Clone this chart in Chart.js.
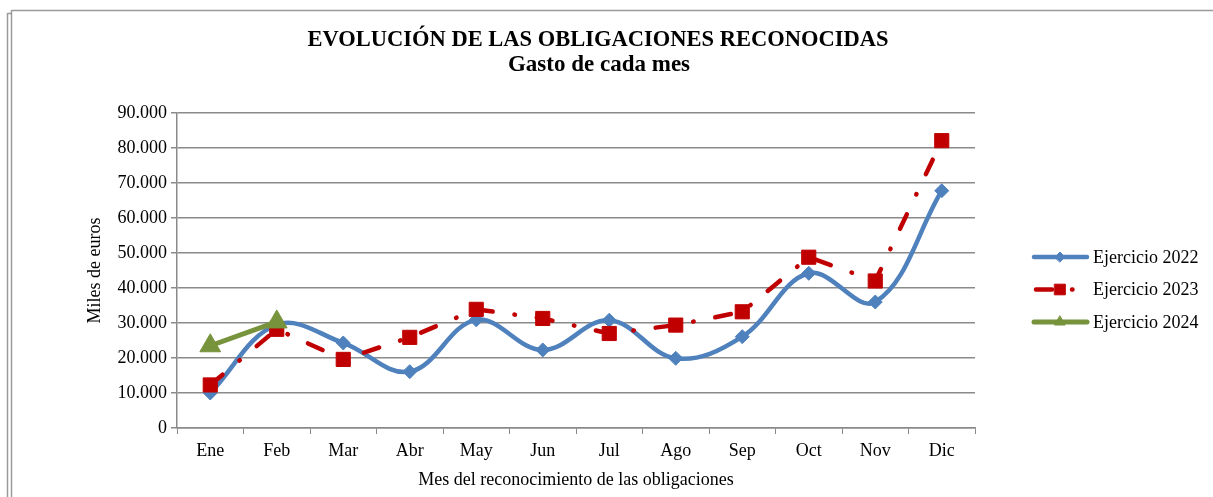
<!DOCTYPE html>
<html>
<head>
<meta charset="utf-8">
<script src="https://cdn.jsdelivr.net/npm/chart.js@4.4.1/dist/chart.umd.min.js"></script>
<style>
  html, body { margin: 0; padding: 0; background: #ffffff; }
  #wrap { position: relative; width: 1213px; height: 497px; }
  canvas { display: block; }
</style>
</head>
<body>
<div id="wrap"><canvas id="c" width="1213" height="497"></canvas></div>
<script>
// ---- Data ----
const months = ['Ene', 'Feb', 'Mar', 'Abr', 'May', 'Jun', 'Jul', 'Ago', 'Sep', 'Oct', 'Nov', 'Dic'];
const ejercicio2022 = [10000, 29500, 24300, 16100, 30900, 22300, 30800, 19900, 26100, 44200, 36000, 67800];
const ejercicio2023 = [12300, 28200, 19600, 25900, 33900, 31300, 27000, 29400, 33200, 48800, 42000, 82100];
const ejercicio2024 = [23500, 30300, null, null, null, null, null, null, null, null, null, null];
const seriesNames = ['Ejercicio 2022', 'Ejercicio 2023', 'Ejercicio 2024'];
const yTickValues = [0, 10000, 20000, 30000, 40000, 50000, 60000, 70000, 80000, 90000];
const titleText = 'EVOLUCIÓN DE LAS OBLIGACIONES RECONOCIDAS';
const subtitleText = 'Gasto de cada mes';
const yAxisTitle = 'Miles de euros';
const xAxisTitle = 'Mes del reconocimiento de las obligaciones';

const FONT = '"Liberation Serif", "Times New Roman", serif';
const GRID = '#8a8a8a';

function fmtThousands(v) {
  return String(Math.round(v)).replace(/\B(?=(\d{3})+(?!\d))/g, '.');
}

const framePlugin = {
  id: 'frame',
  beforeDraw(chart) {
    const ctx = chart.ctx;
    ctx.save();
    ctx.strokeStyle = '#9a9a9a';
    ctx.lineWidth = 1.5;
    ctx.beginPath();
    ctx.moveTo(7.5, 13); ctx.lineTo(7.5, 497);
    ctx.moveTo(7.5, 13.5); ctx.lineTo(11.5, 13.5);
    ctx.moveTo(11.5, 10); ctx.lineTo(11.5, 497);
    ctx.moveTo(11.5, 10.5); ctx.lineTo(1213, 10.5);
    ctx.stroke();
    // titles
    ctx.fillStyle = '#000';
    ctx.textAlign = 'center';
    ctx.textBaseline = 'middle';
    ctx.font = 'bold 22.5px ' + FONT;
    ctx.fillText(titleText, 598, 40);
    ctx.font = 'bold 23px ' + FONT;
    ctx.fillText(subtitleText, 599, 65);
    ctx.restore();
  }
};

const legendPlugin = {
  id: 'customLegend',
  afterDraw(chart) {
    const ctx = chart.ctx;
    const ys = [257, 289.5, 322];
    chart.data.datasets.forEach((ds, i) => {
      const y = ys[i];
      ctx.save();
      ctx.strokeStyle = ds.borderColor;
      ctx.lineWidth = ds.borderWidth;
      ctx.lineCap = 'round';
      ctx.setLineDash(ds.legendDash || []);
      ctx.lineDashOffset = ds.legendDashOffset || 0;
      ctx.beginPath();
      ctx.moveTo(1034, y);
      ctx.lineTo(1087, y);
      ctx.stroke();
      ctx.setLineDash([]);
      ctx.fillStyle = ds.pointBackgroundColor;
      ctx.strokeStyle = ds.pointBackgroundColor;
      ctx.lineWidth = 1;
      Chart.helpers.drawPoint(ctx, {
        pointStyle: ds.pointStyle,
        radius: ds.legendRadius,
        borderWidth: 1,
        rotation: 0
      }, 1060, y);
      ctx.fillStyle = '#000';
      ctx.font = '18px ' + FONT;
      ctx.textAlign = 'left';
      ctx.textBaseline = 'middle';
      ctx.fillText(ds.label, 1093, y + 1);
      ctx.restore();
    });
  }
};

new Chart(document.getElementById('c'), {
  type: 'line',
  data: {
    labels: months,
    datasets: [
      {
        label: seriesNames[0],
        data: ejercicio2022,
        borderColor: '#4f81bd',
        backgroundColor: '#4f81bd',
        borderWidth: 4.5,
        tension: 0.38,
        pointStyle: 'rectRot',
        pointRadius: 7,
        pointBackgroundColor: '#4f81bd',
        pointBorderColor: '#4f81bd',
        pointBorderWidth: 1,
        legendRadius: 5,
        order: 2
      },
      {
        label: seriesNames[1],
        data: ejercicio2023,
        borderColor: '#c00000',
        backgroundColor: '#c00000',
        borderWidth: 4.5,
        borderDash: [16, 22, 0.5, 22],
        borderDashOffset: 0,
        borderCapStyle: 'round',
        tension: 0,
        pointStyle: 'rect',
        pointRadius: 10,
        pointBackgroundColor: '#c00000',
        pointBorderColor: '#c00000',
        pointBorderWidth: 1,
        legendDash: [16, 20, 0.5, 30],
        legendDashOffset: -2,
        legendRadius: 7.5,
        order: 1
      },
      {
        label: seriesNames[2],
        data: ejercicio2024,
        borderColor: '#77933c',
        backgroundColor: '#77933c',
        borderWidth: 5,
        tension: 0,
        pointStyle: 'triangle',
        pointRadius: 12,
        pointBackgroundColor: '#77933c',
        pointBorderColor: '#77933c',
        pointBorderWidth: 1,
        legendRadius: 6,
        order: 0
      }
    ]
  },
  options: {
    responsive: false,
    animation: false,
    events: [],
    layout: { padding: { left: 84, right: 238, top: 113, bottom: 6 } },
    plugins: {
      legend: { display: false },
      title: { display: false },
      tooltip: { enabled: false }
    },
    scales: {
      x: {
        offset: true,
        grid: {
          offset: true,
          drawOnChartArea: false,
          drawTicks: true,
          tickLength: 6,
          color: GRID
        },
        border: { color: GRID, width: 1.5 },
        ticks: {
          color: '#000',
          font: { family: FONT, size: 18 },
          padding: 6,
          maxRotation: 0,
          autoSkip: false
        },
        title: {
          display: true,
          text: xAxisTitle,
          color: '#000',
          font: { family: FONT, size: 18 },
          padding: { top: 0, bottom: 0 }
        },
        afterFit(scale) { scale.height = 63; }
      },
      y: {
        min: 0,
        max: 90000,
        afterBuildTicks(scale) { scale.ticks = yTickValues.map(v => ({ value: v })); },
        grid: {
          color: GRID,
          lineWidth: 1.5,
          drawTicks: true,
          tickLength: 6,
          tickColor: GRID
        },
        border: { color: GRID, width: 1.5 },
        ticks: {
          color: '#000',
          font: { family: FONT, size: 18 },
          padding: 4,
          callback: (v) => fmtThousands(v)
        },
        title: {
          display: true,
          text: yAxisTitle,
          color: '#000',
          font: { family: FONT, size: 18 },
          padding: { top: 0, bottom: 0 }
        },
        afterFit(scale) { scale.width = 93; }
      }
    }
  },
  plugins: [framePlugin, legendPlugin]
});
</script>
</body>
</html>
